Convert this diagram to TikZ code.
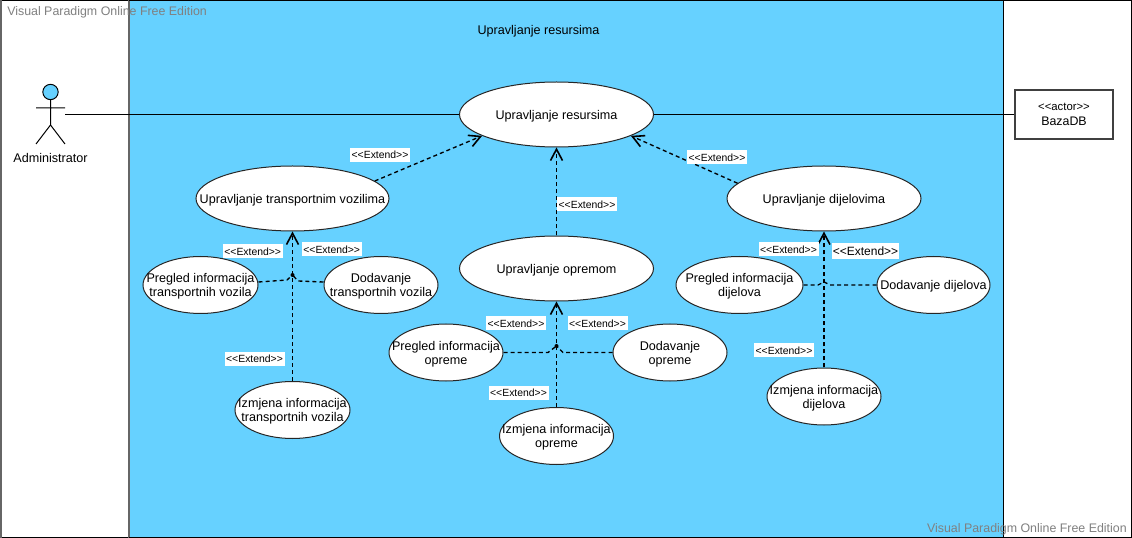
\documentclass[tikz,border=0pt]{standalone}
\usepackage{fontspec}
\setmainfont{Liberation Sans}
\usetikzlibrary{shapes.geometric,arrows.meta}
\definecolor{sysblue}{HTML}{66D1FF}
\definecolor{wmgray}{HTML}{808080}
\definecolor{framegray}{HTML}{666666}
\newcommand{\uctext}[1]{\raisebox{0pt}[\dimexpr\height+3pt\relax][\depth]{\makebox[0pt][c]{\begin{tabular}{@{}c@{}}#1\end{tabular}}}}
\tikzset{
  x=0.75pt,y=-0.75pt,
  usecase/.style n args={2}{ellipse,draw=black!85,line width=0.75pt,fill=white,inner sep=0pt,
    minimum width=#1*0.75pt,minimum height=#2*0.75pt,font=\fontsize{9.45pt}{10.5pt}\selectfont},
  extlabel/.style={fill=white,inner sep=0pt,minimum width=45pt,minimum height=10.5pt,font=\fontsize{7.8pt}{9pt}\selectfont},
  extlabelbig/.style={fill=white,inner sep=0pt,minimum width=50pt,minimum height=11.5pt,font=\fontsize{9pt}{10pt}\selectfont},
  ext/.style={dash pattern=on 3pt off 2.3pt,line width=1pt,black},
  exttip/.style={-{Straight Barb[length=8.5pt,width=9pt,line width=1.2pt]}},
  assoc/.style={line width=0.75pt,black},
  watermark/.style={text=wmgray,inner sep=0pt,font=\fontsize{9.3pt}{10.5pt}\selectfont},
  plain/.style={inner sep=0pt,font=\fontsize{9.45pt}{10.5pt}\selectfont},
  jdot/.style={circle,fill=black,inner sep=0pt,minimum size=3pt}
}
\begin{document}
\begin{tikzpicture}
\useasboundingbox (0,0) rectangle (1132,538);
\fill[white] (0,0) rectangle (1132,538);
\draw[black,line width=0.75pt] (0,0.5) -- (1132,0.5);
\draw[black,line width=0.75pt] (0,537.5) -- (1132,537.5);
\draw[black,line width=0.75pt] (1131.5,0) -- (1131.5,538);
\draw[framegray,line width=1.4pt] (0.8,0) -- (0.8,538);
\fill[sysblue] (129,0) rectangle (1003,538);
\draw[framegray,line width=0.9pt] (129,0) -- (129,538);
\draw[black,line width=0.75pt] (1003.5,0) -- (1003.5,538);
\draw[black,line width=0.75pt] (129,0.5) -- (1003,0.5);
\draw[black,line width=0.75pt] (129,537.5) -- (1003,537.5);

\node[plain] (title) at (538.5,31) {Upravljanje resursima};

% actor
\node[circle,draw=black,line width=0.75pt,fill=sysblue,inner sep=0pt,minimum size=11.5pt] (head) at (50.5,92) {};
\coordinate (hip) at (50.5,125);
\coordinate (armL) at (36,108);
\coordinate (armR) at (65,108);
\coordinate (legL) at (36,144);
\coordinate (legR) at (65,144);
\coordinate (adm) at (65,114.5);
\draw[assoc] (head.south) -- (hip) (armL) -- (armR) (legL) -- (hip) -- (legR);
\node[plain] (admin) at (50.5,158) {Administrator};

% use cases
\node[usecase={194}{65}] (main) at (556.5,114.5) {\uctext{Upravljanje resursima}};
\node[usecase={193}{65}] (tv) at (292.5,198.5) {\uctext{Upravljanje transportnim vozilima}};
\node[usecase={115}{57}] (ptv) at (200.5,285) {\uctext{Pregled informacija\\transportnih vozila}};
\node[usecase={114}{57}] (dtv) at (381,285) {\uctext{Dodavanje\\transportnih vozila}};
\node[usecase={115}{57}] (itv) at (292.5,410) {\uctext{Izmjena informacija\\transportnih vozila}};
\node[usecase={194}{65}] (op) at (556.5,268.5) {\uctext{Upravljanje opremom}};
\node[usecase={114}{57}] (pop) at (446,352.5) {\uctext{Pregled informacija\\opreme}};
\node[usecase={114}{57}] (dop) at (670,352.5) {\uctext{Dodavanje\\opreme}};
\node[usecase={114}{57}] (iop) at (556.5,436) {\uctext{Izmjena informacija\\opreme}};
\node[usecase={194}{65}] (dj) at (824,198.5) {\uctext{Upravljanje dijelovima}};
\node[usecase={127}{57}] (pdj) at (739.5,285) {\uctext{Pregled informacija\\dijelova}};
\node[usecase={113}{57}] (ddj) at (933.5,285) {\uctext{Dodavanje dijelova}};
\node[usecase={114}{57}] (idj) at (824,396.5) {\uctext{Izmjena informacija\\dijelova}};

% actor box
\node[draw=black!75,line width=0.8pt,fill=white,inner sep=0pt,minimum width=73.5pt,minimum height=36.75pt,align=center,
  font=\fontsize{9.3pt}{11pt}\selectfont] (db) at (1064,114.5) {{\fontsize{8.5pt}{11pt}\selectfont <{}<actor>{}>}\\BazaDB};

% associations
\draw[assoc] (adm) -- (main.west);
\draw[assoc] (main.east) -- (db.west);

% extends to main
\draw[ext,exttip] (tv.12) -- (main.196.6);
\draw[ext,exttip] (op.north) -- (main.south);
\draw[ext,exttip] (dj.170.6) -- (main.-16.8);

% transport group
\coordinate (jtv) at (292.5,275);
\draw[ext,exttip] (itv.north) -- (tv.south);
\draw[ext] (ptv.east |- 0,282) -- (287,280) -- (jtv);
\draw[ext] (dtv.west |- 0,282) -- (298,281) -- (jtv);
\node[jdot] (jtvdot) at (jtv) {};

% equipment group
\coordinate (jop) at (556.5,346);
\draw[ext,exttip] (iop.north) -- (op.south);
\draw[ext] (pop.east) -- (548,352.5) -- (jop);
\draw[ext] (dop.west) -- (563,352.5) -- (jop);
\node[jdot] (jopdot) at (jop) {};

% parts group
\coordinate (jdj) at (824,282);
\draw[ext,exttip,line width=1.2pt] (idj.north) -- (dj.south);
\draw[ext] (pdj.east) -- (818,285) -- (jdj);
\draw[ext] (ddj.west) -- (830,285) -- (jdj);

% labels
\node[extlabel] (l1) at (380,155) {<{}<Extend>{}>};
\node[extlabel] (l2) at (252.7,251.5) {<{}<Extend>{}>};
\node[extlabel] (l3) at (331.7,249.5) {<{}<Extend>{}>};
\node[extlabel] (l4) at (254.5,359) {<{}<Extend>{}>};
\node[extlabel] (l5) at (587,204.5) {<{}<Extend>{}>};
\node[extlabel] (l6) at (516,323.5) {<{}<Extend>{}>};
\node[extlabel] (l7) at (597.5,323.5) {<{}<Extend>{}>};
\node[extlabel] (l8) at (518.5,392.5) {<{}<Extend>{}>};
\node[extlabel] (l9) at (717,157.5) {<{}<Extend>{}>};
\node[extlabel] (l10) at (788.5,249.5) {<{}<Extend>{}>};
\node[extlabelbig] (l11) at (865.5,251) {<{}<Extend>{}>};
\node[extlabel] (l12) at (784,350.5) {<{}<Extend>{}>};

% watermarks
\node[watermark,anchor=west] (wm1) at (7,12) {Visual Paradigm Online Free Edition};
\node[watermark,anchor=east] (wm2) at (1127,529) {Visual Paradigm Online Free Edition};
\end{tikzpicture}
\end{document}
